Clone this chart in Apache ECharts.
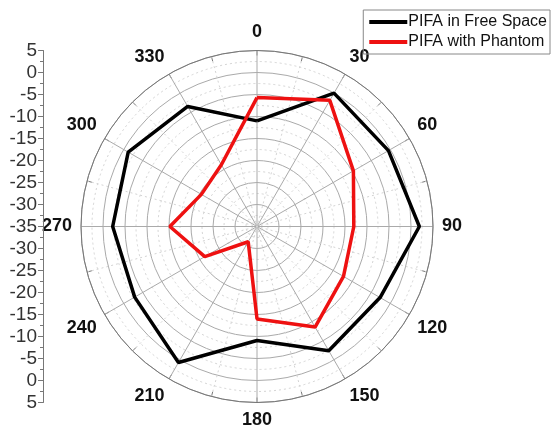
<!DOCTYPE html>
<html>
<head>
<meta charset="utf-8">
<script src="https://cdn.jsdelivr.net/npm/echarts@6/dist/echarts.min.js"></script>
<style>
html,body{margin:0;padding:0;background:#fff;}
#chart{width:552px;height:429px;}
</style>
</head>
<body>
<div id="chart"></div>
<script>
// Data (dB) sampled every 30 degrees, clockwise from 0 at top
const angles = [0, 30, 60, 90, 120, 150, 180, 210, 240, 270, 300, 330];
const freeSpace = [-11, 0, -0.5, 1.9, -2.7, -2.4, -9.1, 0.7, -2.9, -2.2, -1.2, -3.5];
const withPhantom = [-5.7, -1.9, -9.7, -13, -12.3, -8.6, -14, -31, -21.3, -15.2, -20.4, -18.8];
const seriesNames = ['PIFA in Free Space', 'PIFA with Phantom'];
const seriesColors = ['#000000', '#ee1111'];
const radiusMin = -35, radiusMax = 5, radiusStep = 5;

function closedLoop(vals) {
  const d = vals.map((v, i) => [v, angles[i]]);
  d.push([vals[0], 360]);
  return d;
}

const chart = echarts.init(document.getElementById('chart'), null, {renderer: 'canvas'});
const FONT = 'Liberation Sans, Arial, sans-serif';
const span = radiusMax - radiusMin;

chart.setOption({
  backgroundColor: '#ffffff',
  animation: false,
  legend: {
    right: 2,
    top: 10,
    orient: 'vertical',
    itemWidth: 38,
    itemHeight: 4,
    itemGap: 4,
    icon: 'rect',
    borderColor: '#888',
    borderWidth: 1,
    padding: [4, 3, 4, 6],
    textStyle: {fontFamily: FONT, fontSize: 16, color: '#111', padding: [0, 0, 0, -4]},
    data: seriesNames
  },
  polar: {center: [257, 226.5], radius: 176},
  angleAxis: {
    type: 'value',
    min: 0,
    max: 360,
    interval: 30,
    startAngle: 90,
    clockwise: true,
    axisLine: {show: true, lineStyle: {color: '#777', width: 1}},
    axisTick: {show: true, inside: true, length: 5, lineStyle: {color: '#777'}},
    minorTick: {show: true, splitNumber: 2, length: 5, lineStyle: {color: '#777'}},
    axisLabel: {
      show: true, margin: 9,
      fontFamily: FONT, fontSize: 18, fontWeight: 'bold', color: '#111'
    },
    splitLine: {show: true, lineStyle: {color: '#aaa', width: 1}},
    minorSplitLine: {show: true, lineStyle: {color: '#d4d4d4', type: [2, 3], width: 1}}
  },
  radiusAxis: {
    type: 'value',
    min: radiusMin,
    max: radiusMax,
    interval: radiusStep,
    axisLine: {show: false},
    axisTick: {show: false},
    axisLabel: {show: false},
    splitLine: {show: true, lineStyle: {color: '#aaa', width: 1}},
    minorTick: {show: false, splitNumber: 2},
    minorSplitLine: {show: true, lineStyle: {color: '#d4d4d4', type: [2, 3], width: 1}}
  },
  grid: {left: 43, top: 50.5, width: 1, height: 352},
  xAxis: {type: 'value', show: false, min: 0, max: 1},
  yAxis: {
    type: 'value',
    min: -span,
    max: span,
    interval: radiusStep,
    axisLine: {show: true, lineStyle: {color: '#777', width: 1}},
    axisTick: {show: true, length: 5, lineStyle: {color: '#777'}},
    minorTick: {show: true, splitNumber: 2, length: 3, lineStyle: {color: '#777'}},
    splitLine: {show: false},
    axisLabel: {
      margin: 6,
      fontFamily: FONT, fontSize: 19, color: '#333',
      formatter: v => String(Math.abs(v) + radiusMin)
    }
  },
  series: [
    {
      name: seriesNames[0], type: 'line', coordinateSystem: 'polar',
      data: closedLoop(freeSpace), symbol: 'none',
      lineStyle: {color: seriesColors[0], width: 3.5}, itemStyle: {color: seriesColors[0]}
    },
    {
      name: seriesNames[1], type: 'line', coordinateSystem: 'polar',
      data: closedLoop(withPhantom), symbol: 'none',
      lineStyle: {color: seriesColors[1], width: 3.5}, itemStyle: {color: seriesColors[1]}
    }
  ]
});
</script>
</body>
</html>
